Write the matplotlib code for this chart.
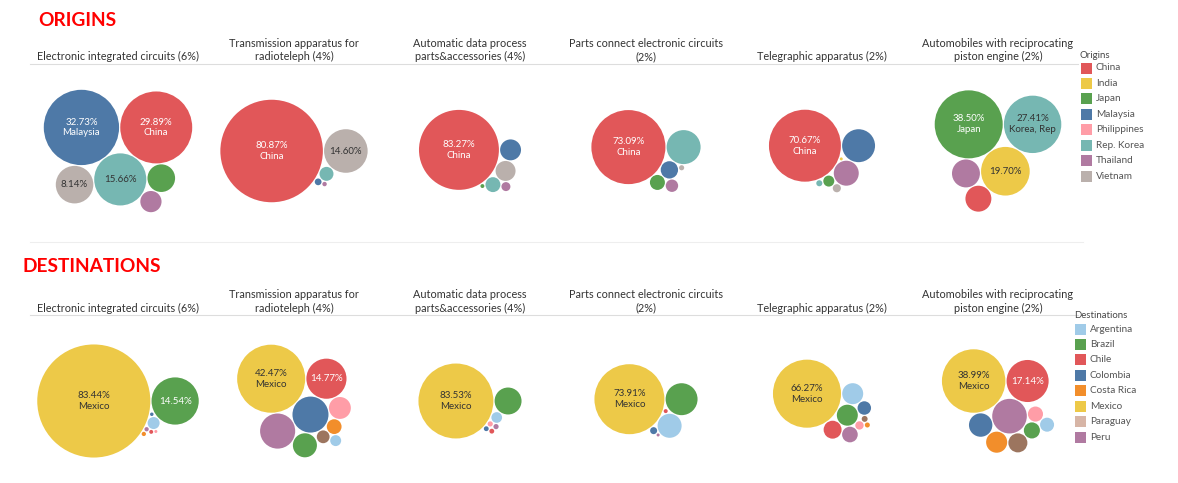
import numpy as np
import matplotlib.pyplot as plt
from matplotlib.patches import Circle, Rectangle
from matplotlib.lines import Line2D

plt.rcParams['font.family'] = ['Lato', 'DejaVu Sans']

#%% Data
products = ['Electronic integrated circuits (6%)',
            'Transmission apparatus for\nradioteleph (4%)',
            'Automatic data process\nparts&accessories (4%)',
            'Parts connect electronic circuits\n(2%)',
            'Telegraphic apparatus (2%)',
            'Automobiles with reciprocating\npiston engine (2%)']

origin_legend = ['China', 'India', 'Japan', 'Malaysia', 'Philippines',
                 'Rep. Korea', 'Thailand', 'Vietnam']
dest_legend = ['Argentina', 'Brazil', 'Chile', 'Colombia', 'Costa Rica',
               'Mexico', 'Paraguay', 'Peru']

# share (%) of each partner country within each product
origin_names = [
    ['China', 'Malaysia', 'Rep. Korea', 'Vietnam', 'Japan', 'Thailand'],
    ['China', 'Vietnam', 'Rep. Korea', 'Malaysia', 'Thailand'],
    ['China', 'Malaysia', 'Vietnam', 'Rep. Korea', 'Thailand', 'Japan'],
    ['China', 'Rep. Korea', 'Malaysia', 'Japan', 'Thailand', 'Vietnam'],
    ['China', 'Malaysia', 'Thailand', 'Japan', 'Vietnam', 'Rep. Korea', 'India'],
    ['Japan', 'Rep. Korea', 'India', 'Thailand', 'China'],
]
origin_shares = [
    [29.89, 32.73, 15.66, 8.14, 4.4, 2.6],
    [80.87, 14.60, 1.5, 0.35, 0.15],
    [83.27, 5.7, 5.2, 2.9, 1.05, 0.2],
    [73.09, 15.4, 4.0, 3.0, 2.05, 0.35],
    [70.67, 14.8, 8.5, 1.65, 0.9, 0.5, 0.12],
    [38.50, 27.41, 19.70, 6.5, 5.6],
]
# '' = no label, '%' = share only, other text = share + name
origin_labels = [
    ['China', 'Malaysia', '%', '%', '', ''],
    ['China', '%', '', '', ''],
    ['China', '', '', '', '', ''],
    ['China', '', '', '', '', ''],
    ['China', '', '', '', '', '', ''],
    ['Japan', 'Korea, Rep', '%', '', ''],
]

dest_names = [
    ['Mexico', 'Brazil', 'Argentina', 'Peru', 'Costa Rica', 'Chile', 'Colombia', 'Uruguay'],
    ['Mexico', 'Chile', 'Colombia', 'Peru', 'Brazil', 'Uruguay', 'Costa Rica', 'Venezuela', 'Argentina'],
    ['Mexico', 'Brazil', 'Argentina', 'Uruguay', 'Peru', 'Colombia', 'Chile'],
    ['Mexico', 'Brazil', 'Argentina', 'Colombia', 'Chile', 'Peru'],
    ['Mexico', 'Argentina', 'Brazil', 'Chile', 'Peru', 'Colombia', 'Uruguay', 'Venezuela', 'Costa Rica'],
    ['Mexico', 'Chile', 'Peru', 'Colombia', 'Costa Rica', 'Venezuela', 'Brazil', 'Uruguay', 'Argentina'],
]
dest_shares = [
    [83.44, 14.54, 0.94, 0.12, 0.12, 0.1, 0.08, 0.06],
    [42.47, 14.77, 11.9, 11.3, 5.3, 4.4, 2.0, 1.5, 1.1],
    [83.53, 10.8, 1.7, 0.4, 0.4, 0.35, 0.35],
    [73.91, 15.4, 8.7, 0.74, 0.24, 0.14],
    [66.27, 6.3, 6.3, 4.6, 3.5, 2.6, 1.0, 0.5, 0.36],
    [38.99, 17.14, 11.6, 5.3, 4.3, 3.5, 2.5, 2.2, 1.9],
]
dest_labels = [
    ['Mexico', '%', '', '', '', '', '', ''],
    ['Mexico', '%', '', '', '', '', '', '', ''],
    ['Mexico', '', '', '', '', '', ''],
    ['Mexico', '', '', '', '', ''],
    ['Mexico', '', '', '', '', '', '', '', ''],
    ['Mexico', '%', '', '', '', '', '', '', ''],
]

#%% Style
colors = {
    'China': '#e15759', 'India': '#edc948', 'Japan': '#59a14f',
    'Malaysia': '#4e79a7', 'Philippines': '#ff9da7', 'Rep. Korea': '#76b7b2',
    'Thailand': '#b07aa1', 'Vietnam': '#bab0ac',
    'Argentina': '#a0cbe8', 'Brazil': '#59a14f', 'Chile': '#e15759',
    'Colombia': '#4e79a7', 'Costa Rica': '#f28e2b', 'Mexico': '#edc948',
    'Paraguay': '#d7b5a6', 'Peru': '#b07aa1', 'Uruguay': '#ff9da7',
    'Venezuela': '#9c755f',
}
light = ['#edc948', '#76b7b2', '#bab0ac', '#a0cbe8', '#d7b5a6', '#ff9da7']

# radius (px) of a bubble holding 100% in each panel
origin_scale = [65.8, 57.0, 43.8, 43.3, 42.8, 54.8]
dest_scale = [61.9, 52.2, 41.0, 40.7, 41.8, 50.8]

W, H = 1178, 483
fig = plt.figure(figsize=(W / 100, H / 100), dpi=100)


def fx(px):
    return px / W


def fy(py):
    return 1 - py / H


def pack(radii, pad=1.2):
    # greedy packing: biggest first, each next bubble tangent to two
    # placed ones, as close to the mean centre as possible
    radii = np.asarray(radii, float)
    order = np.argsort(-radii, kind='stable')
    xs = np.zeros(len(radii))
    ys = np.zeros(len(radii))
    done = []
    for k, i in enumerate(order):
        r = radii[i]
        if k == 1:
            xs[i] = radii[order[0]] + r + pad
        elif k > 1:
            cx = np.mean(xs[done])
            cy = np.mean(ys[done])
            best = None
            for a in range(len(done)):
                for b in range(a + 1, len(done)):
                    p, q = done[a], done[b]
                    d1 = radii[p] + r + pad
                    d2 = radii[q] + r + pad
                    dx, dy = xs[q] - xs[p], ys[q] - ys[p]
                    d = np.hypot(dx, dy)
                    if d == 0 or d > d1 + d2 or d < abs(d1 - d2):
                        continue
                    aa = (d1 ** 2 - d2 ** 2 + d ** 2) / (2 * d)
                    hh = np.sqrt(max(d1 ** 2 - aa ** 2, 0))
                    mx, my = xs[p] + aa * dx / d, ys[p] + aa * dy / d
                    for s in (1, -1):
                        px, py = mx - s * hh * dy / d, my + s * hh * dx / d
                        ok = all(np.hypot(px - xs[m], py - ys[m]) >= radii[m] + r + pad - 1e-6
                                 for m in done)
                        if ok:
                            dist = np.hypot(px - cx, py - cy)
                            if best is None or dist < best[0]:
                                best = (dist, px, py)
            if best is None:
                best = (0, max(xs[done] + radii[done]) + r + pad, 0)
            xs[i], ys[i] = best[1], best[2]
        done.append(i)
    # centre the bounding box
    xs -= (np.min(xs - radii) + np.max(xs + radii)) / 2
    ys -= (np.min(ys - radii) + np.max(ys + radii)) / 2
    return xs, ys, radii


def draw_row(names, shares, labels, scales, top, height, header_y, line_y):
    col_w = 176
    for c in range(len(products)):
        left = 30 + col_w * c
        ax = fig.add_axes([fx(left), fy(top + height), col_w / W, height / H])
        ax.set_xlim(-col_w / 2, col_w / 2)
        ax.set_ylim(-height / 2, height / 2)
        ax.axis('off')
        radii = scales[c] * np.sqrt(np.array(shares[c]) / 100)
        xs, ys, rr = pack(radii)
        for n, s, lab, x, y, r in zip(names[c], shares[c], labels[c], xs, ys, rr):
            col = colors[n]
            ax.add_patch(Circle((x, -y), r, facecolor=col, edgecolor='none'))
            if lab:
                txt = f'{s:.2f}%' if lab == '%' else f'{s:.2f}%\n{lab}'
                ax.text(x, -y, txt, ha='center', va='center', fontsize=7,
                        color='#333333' if col in light else 'white', linespacing=1.25)
        fig.text(fx(left + col_w / 2), fy(header_y), products[c], ha='center', va='bottom',
                 fontsize=7.8, color='#333333', linespacing=1.25)
    fig.add_artist(Line2D([fx(30), fx(1078)], [fy(line_y)] * 2, color='#dddddd', lw=0.8))


def draw_legend(title, entries, x, y):
    fig.text(fx(x - 1), fy(y - 13), title, ha='left', va='center', fontsize=6.9, color='#444444')
    for k, e in enumerate(entries):
        yc = y + 15.45 * k
        fig.add_artist(Rectangle((fx(x), fy(yc + 5.5)), 11 / W, 11 / H,
                                 facecolor=colors[e], edgecolor='none', transform=fig.transFigure))
        fig.text(fx(x + 15), fy(yc), e, ha='left', va='center', fontsize=7.2, color='#555555')


#%% Origins
fig.text(fx(38), fy(20), 'ORIGINS', ha='left', va='center', fontsize=13.8,
         fontweight='bold', color='#ff0000')
draw_row(origin_names, origin_shares, origin_labels, origin_scale, 68, 166, 62.5, 64)
draw_legend('Origins', origin_legend, 1081, 68)

fig.add_artist(Line2D([fx(30), fx(1083)], [fy(242)] * 2, color='#eeeeee', lw=0.8))

#%% Destinations
fig.text(fx(23), fy(266), 'DESTINATIONS', ha='left', va='center', fontsize=13.8,
         fontweight='bold', color='#ff0000')
draw_row(dest_names, dest_shares, dest_labels, dest_scale, 320, 162, 313.5, 315)
draw_legend('Destinations', dest_legend, 1075, 329)

fig.savefig('out.png', dpi=100)
